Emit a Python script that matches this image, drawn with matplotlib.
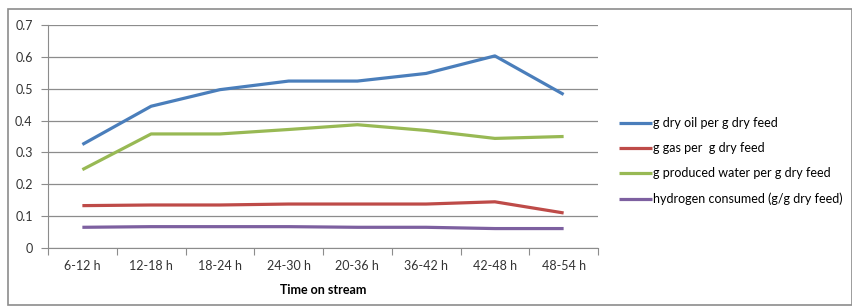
import matplotlib
matplotlib.use("Agg")
from matplotlib import pyplot as plt
from matplotlib.patches import Rectangle
import numpy as np

categories = ["6-12 h", "12-18 h", "18-24 h", "24-30 h", "20-36 h", "36-42 h", "42-48 h", "48-54 h"]
oil = [0.325, 0.445, 0.497, 0.524, 0.524, 0.548, 0.603, 0.482]
gas = [0.133, 0.135, 0.135, 0.138, 0.138, 0.138, 0.145, 0.110]
water = [0.246, 0.358, 0.358, 0.372, 0.387, 0.369, 0.344, 0.350]
hydrogen = [0.065, 0.067, 0.067, 0.067, 0.065, 0.065, 0.061, 0.061]

series = [
    ("g dry oil per g dry feed", oil, "#4a7ebb"),
    ("g gas per  g dry feed", gas, "#be4b48"),
    ("g produced water per g dry feed", water, "#98b954"),
    ("hydrogen consumed (g/g dry feed)", hydrogen, "#7d60a0"),
]

plt.rcParams['font.family'] = ['Lato', 'DejaVu Sans']

W, H = 853, 307
fig = plt.figure(figsize=(W / 100, H / 100), dpi=100)
fig.patches.append(Rectangle((8 / W, 2 / H), 844 / W, 296 / H, transform=fig.transFigure,
                             fill=False, edgecolor="#8c8c8c", linewidth=1.2))

ax = fig.add_axes([48 / W, 59 / H, 550 / W, 223 / H])
x = np.arange(len(categories)) + 0.5
for label, vals, color in series:
    ax.plot(x, vals, color=color, linewidth=2.3, label=label, solid_capstyle="butt")

ax.set_xlim(0, len(categories))
ax.set_ylim(0, 0.7)
ax.set_yticks(np.arange(0, 0.71, 0.1))
ax.set_yticklabels(["0"] + [f"{v:.1f}" for v in np.arange(0.1, 0.71, 0.1)], fontsize=9, color="#333333")
ax.yaxis.grid(True, color="#8c8c8c", linewidth=0.9)
ax.set_axisbelow(True)

ax.set_xticks(np.arange(len(categories) + 1))
ax.set_xticklabels([])
ax.set_xticks(x, minor=True)
ax.set_xticklabels(categories, minor=True, fontsize=9, color="#333333")
ax.tick_params(axis="x", which="minor", length=0, pad=9)
ax.tick_params(axis="x", which="major", length=5, color="#8c8c8c", direction="out")
ax.tick_params(axis="y", length=5, color="#8c8c8c", pad=6)

for s in ["top", "right"]:
    ax.spines[s].set_visible(False)
for s in ["left", "bottom"]:
    ax.spines[s].set_color("#8c8c8c")

ax.set_xlabel("Time on stream", fontsize=9, fontweight="bold", labelpad=8)

ax.legend(loc="center left", bbox_to_anchor=(560 / 550, 0.39), frameon=False,
          fontsize=9, handlelength=2.6, handletextpad=0.1, labelspacing=1.05)

fig.savefig("out.png", dpi=100)
